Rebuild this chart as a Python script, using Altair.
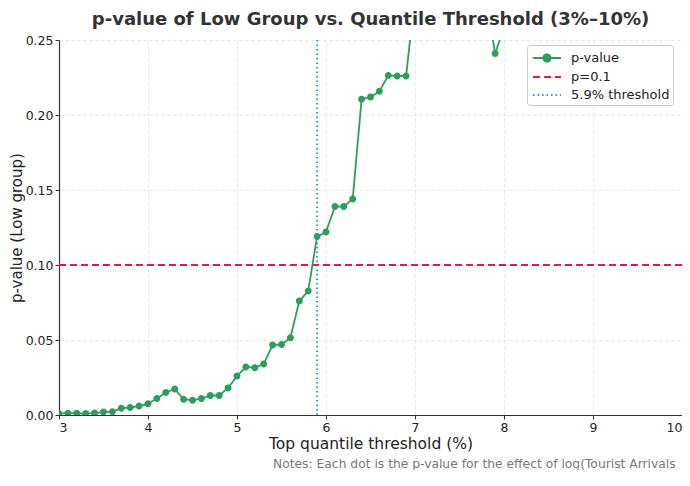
import altair as alt
import pandas as pd

thresholds = [3.0, 3.1, 3.2, 3.3, 3.4, 3.5, 3.6, 3.7, 3.8, 3.9,
              4.0, 4.1, 4.2, 4.3, 4.4, 4.5, 4.6, 4.7, 4.8, 4.9,
              5.0, 5.1, 5.2, 5.3, 5.4, 5.5, 5.6, 5.7, 5.8, 5.9,
              6.0, 6.1, 6.2, 6.3, 6.4, 6.5, 6.6, 6.7, 6.8, 6.9,
              7.0, 7.1, 7.2, 7.3, 7.4, 7.5, 7.6, 7.7, 7.8, 7.9, 8.0]
p_values = [0.0010, 0.0012, 0.0012, 0.0010, 0.0013, 0.0020, 0.0022, 0.0045, 0.0050, 0.0060,
            0.0075, 0.0110, 0.0150, 0.0173, 0.0105, 0.0098, 0.0110, 0.0130, 0.0130, 0.0180,
            0.0260, 0.0320, 0.0315, 0.0340, 0.0467, 0.0470, 0.0515, 0.0760, 0.0827, 0.1190,
            0.1220, 0.1390, 0.1390, 0.1440, 0.2105, 0.2120, 0.2158, 0.2264, 0.2260, 0.2260,
            0.2800, 0.3200, 0.3500, 0.3600, 0.3400, 0.3300, 0.3200, 0.3000, 0.2780, 0.2410, 0.2580]

series_names = ["p-value", "p=0.1", "5.9% threshold"]
series_colors = ["#2e9d5b", "#e41a45", "#2f8fd8"]
series_dashes = [[1, 0], [7, 4], [1.5, 3]]

h_ref = [0.1]
v_ref = [5.9]
note_text = ["Notes: Each dot is the p-value for the effect of log(Tourist Arrivals"]

df = pd.DataFrame({"x": thresholds, "p": p_values, "series": series_names[0]})
df_h = pd.DataFrame({"y": h_ref, "series": series_names[1]})
df_v = pd.DataFrame({"x": v_ref, "series": series_names[2]})
df_note = pd.DataFrame({"t": note_text})

LINE_PATH = "M-1.55,0H1.55"
DOT_PATH = "M-1.55,0H1.55M0.4,0A0.4,0.4,0,1,1,-0.4,0A0.4,0.4,0,1,1,0.4,0Z"

color_scale = alt.Scale(domain=series_names, range=series_colors)
dash_scale = alt.Scale(domain=series_names, range=series_dashes)
shape_scale = alt.Scale(domain=series_names, range=[DOT_PATH, LINE_PATH, LINE_PATH])

legend = alt.Legend(
    title=None, orient="none", legendX=468, legendY=5,
    symbolType=LINE_PATH, symbolSize=324, symbolStrokeWidth=2, symbolOffset=7,
    labelFontSize=13, labelFont="DejaVu Sans", labelColor="#222",
    strokeColor="#cccccc", fillColor="white", padding=3, cornerRadius=3,
    rowPadding=1, labelOffset=14,
)

x_scale = alt.Scale(domain=[3, 10], nice=False)
y_scale = alt.Scale(domain=[0, 0.25], nice=False)

x_axis = alt.Axis(values=[3, 4, 5, 6, 7, 8, 9, 10], format="d", title="Top quantile threshold (%)")
y_axis = alt.Axis(values=[0, 0.05, 0.1, 0.15, 0.2, 0.25], format=".2f", title="p-value (Low group)")

line = alt.Chart(df).mark_line(clip=True, strokeWidth=1.8).encode(
    x=alt.X("x:Q", scale=x_scale, axis=x_axis),
    y=alt.Y("p:Q", scale=y_scale, axis=y_axis),
    color=alt.Color("series:N", scale=color_scale, legend=legend),
    strokeDash=alt.StrokeDash("series:N", scale=dash_scale, legend=legend),
)

points = alt.Chart(df).mark_point(clip=True, filled=True, opacity=1, size=300).encode(
    x=alt.X("x:Q", scale=x_scale),
    y=alt.Y("p:Q", scale=y_scale),
    color=alt.Color("series:N", scale=color_scale, legend=legend),
    shape=alt.Shape("series:N", scale=shape_scale, legend=legend),
)

hrule = alt.Chart(df_h).mark_rule(strokeWidth=2).encode(
    y=alt.Y("y:Q", scale=y_scale),
    color=alt.Color("series:N", scale=color_scale, legend=legend),
    strokeDash=alt.StrokeDash("series:N", scale=dash_scale, legend=legend),
)

vrule = alt.Chart(df_v).mark_rule(strokeWidth=2).encode(
    x=alt.X("x:Q", scale=x_scale),
    color=alt.Color("series:N", scale=color_scale, legend=legend),
    strokeDash=alt.StrokeDash("series:N", scale=dash_scale, legend=legend),
)

note = alt.Chart(df_note).mark_text(
    align="left", baseline="alphabetic", fontSize=12.3, font="DejaVu Sans", color="#777777", clip=False,
).encode(
    x=alt.value(214), y=alt.value(428), text="t:N",
)

chart = alt.layer(hrule, vrule, line, points, note).properties(
    width=623, height=375,
    autosize=alt.AutoSizeParams(type="none"),
    padding={"left": 51, "top": 32, "right": 0, "bottom": 55},
    title=alt.TitleParams(
        text="p-value of Low Group vs. Quantile Threshold (3%–10%)",
        font="DejaVu Sans", fontSize=18, fontWeight="bold", color="#333333",
        anchor="middle", frame="group", offset=5,
    ),
).configure_view(stroke=None).configure_axis(
    labelFont="DejaVu Sans", titleFont="DejaVu Sans", labelFontSize=12.5, titleFontSize=15.5,
    titleFontWeight="normal", labelColor="#222", titleColor="#222",
    domainColor="#333", domainWidth=1.2, tickColor="#333", tickSize=4,
    gridColor="#dddddd", gridDash=[3, 3], gridWidth=0.8, labelPadding=2,
).configure_axisY(titlePadding=1, titleFontSize=15).configure_axisX(titlePadding=3)

chart.save("out.html", embed_options={"renderer": "svg", "actions": False})
